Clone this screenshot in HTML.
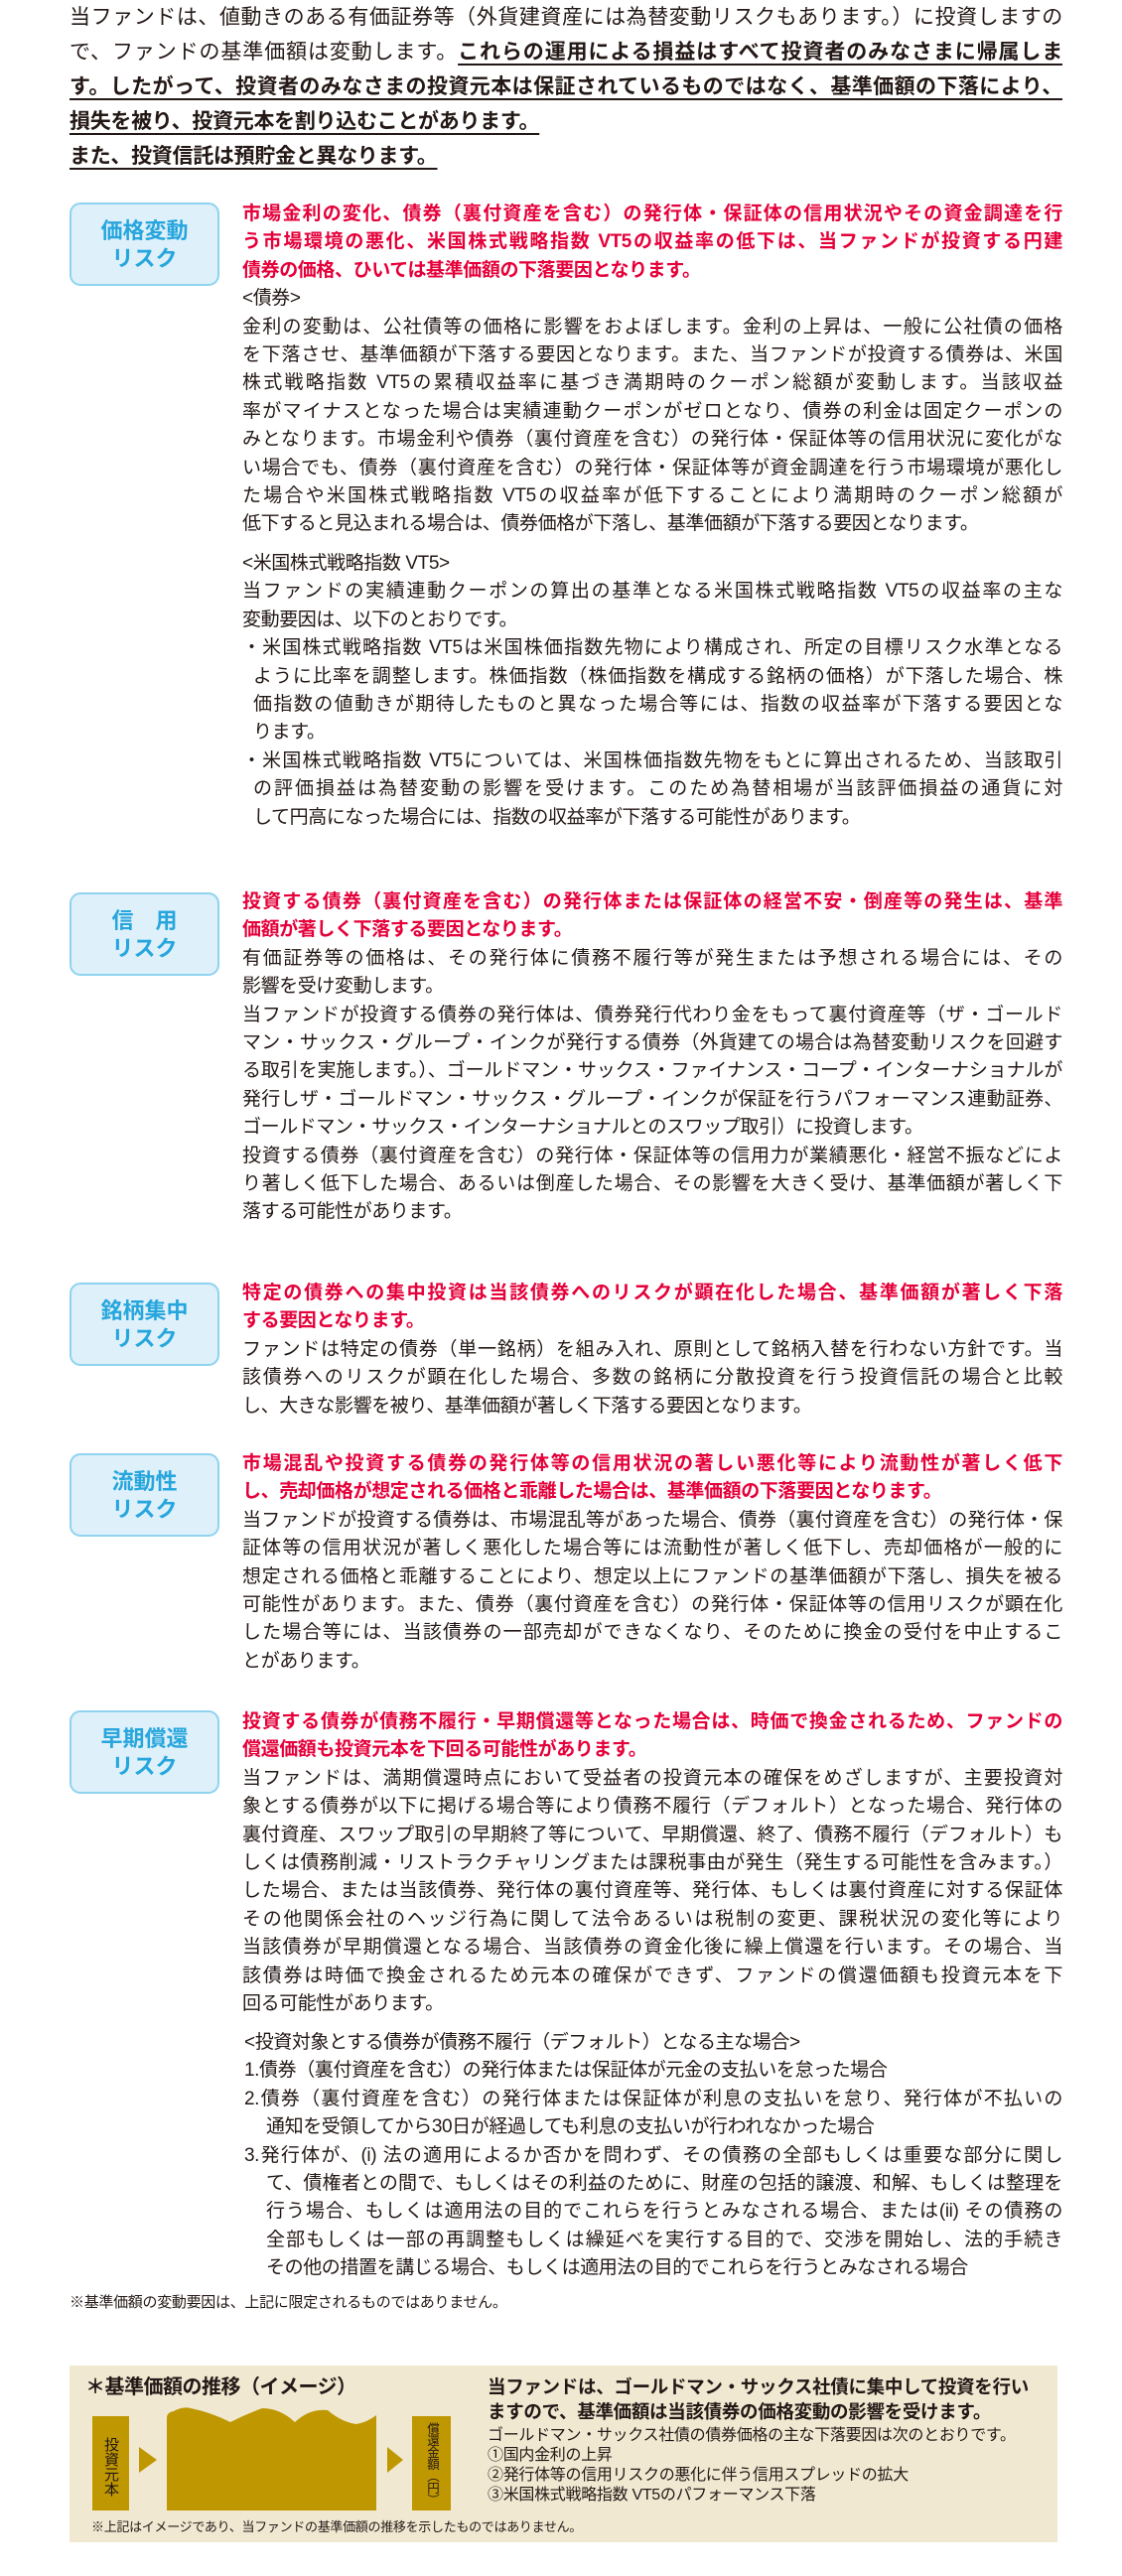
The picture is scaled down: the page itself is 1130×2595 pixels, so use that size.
<!DOCTYPE html>
<html><head><meta charset="utf-8">
<style>
*{margin:0;padding:0;box-sizing:border-box}
body{width:1130px;height:2595px;background:#fff;position:relative;font-family:"Liberation Sans","Noto Sans CJK JP",sans-serif;color:#231815;overflow:hidden}
.abs{position:absolute}
.intro{left:70px;top:0;width:1000px;font-size:21px;letter-spacing:-0.3px}
.intro div{height:35px;line-height:35px;overflow:hidden}
.b{font-weight:bold}
.u{text-decoration:underline;text-decoration-thickness:2px;text-underline-offset:5px}
.j{text-align:justify;text-align-last:justify}
.blk{left:244px;width:826px;font-size:19px;letter-spacing:-0.4px}
.blk div{height:28.4px;line-height:28.4px;overflow:hidden}
.red{color:#e5003a;font-weight:bold}
.ind{padding-left:11px}
.ind2{padding-left:22px}
.lab{left:70px;width:151px;height:84px;background:#def0fa;border:2px solid #8fd3f0;border-radius:11px;color:#27a6dd;font-size:22px;font-weight:bold;text-align:center;line-height:28px;padding-top:13px}
</style></head><body>

<div class="abs intro">
<div class="j">当ファンドは、値動きのある有価証券等（外貨建資産には為替変動リスクもあります。）に投資しますの</div>
<div class="j">で、ファンドの基準価額は変動します。<span class="b u">これらの運用による損益はすべて投資者のみなさまに帰属しま</span></div>
<div class="j b"><span class="u">す。したがって、投資者のみなさまの投資元本は保証されているものではなく、基準価額の下落により、</span></div>
<div class="b"><span class="u">損失を被り、投資元本を割り込むことがあります。</span></div>
<div class="b"><span class="u">また、投資信託は預貯金と異なります。</span></div>
</div>

<!-- section 1 -->
<div class="abs lab" style="top:204px">価格変動<br>リスク</div>
<div class="abs blk" style="top:202px">
<div class="j red">市場金利の変化、債券（裏付資産を含む）の発行体・保証体の信用状況やその資金調達を行</div>
<div class="j red">う市場環境の悪化、米国株式戦略指数 VT5の収益率の低下は、当ファンドが投資する円建</div>
<div class="red">債券の価格、ひいては基準価額の下落要因となります。</div>
<div>&lt;債券&gt;</div>
<div class="j">金利の変動は、公社債等の価格に影響をおよぼします。金利の上昇は、一般に公社債の価格</div>
<div class="j">を下落させ、基準価額が下落する要因となります。また、当ファンドが投資する債券は、米国</div>
<div class="j">株式戦略指数 VT5の累積収益率に基づき満期時のクーポン総額が変動します。当該収益</div>
<div class="j">率がマイナスとなった場合は実績連動クーポンがゼロとなり、債券の利金は固定クーポンの</div>
<div class="j">みとなります。市場金利や債券（裏付資産を含む）の発行体・保証体等の信用状況に変化がな</div>
<div class="j">い場合でも、債券（裏付資産を含む）の発行体・保証体等が資金調達を行う市場環境が悪化し</div>
<div class="j">た場合や米国株式戦略指数 VT5の収益率が低下することにより満期時のクーポン総額が</div>
<div>低下すると見込まれる場合は、債券価格が下落し、基準価額が下落する要因となります。</div>
</div>
<div class="abs blk" style="top:554px">
<div>&lt;米国株式戦略指数 VT5&gt;</div>
<div class="j">当ファンドの実績連動クーポンの算出の基準となる米国株式戦略指数 VT5の収益率の主な</div>
<div>変動要因は、以下のとおりです。</div>
<div class="j">・米国株式戦略指数 VT5は米国株価指数先物により構成され、所定の目標リスク水準となる</div>
<div class="j ind">ように比率を調整します。株価指数（株価指数を構成する銘柄の価格）が下落した場合、株</div>
<div class="j ind">価指数の値動きが期待したものと異なった場合等には、指数の収益率が下落する要因とな</div>
<div class="ind">ります。</div>
<div class="j">・米国株式戦略指数 VT5については、米国株価指数先物をもとに算出されるため、当該取引</div>
<div class="j ind">の評価損益は為替変動の影響を受けます。このため為替相場が当該評価損益の通貨に対</div>
<div class="ind">して円高になった場合には、指数の収益率が下落する可能性があります。</div>
</div>

<!-- section 2 -->
<div class="abs lab" style="top:899px">信　用<br>リスク</div>
<div class="abs blk" style="top:895px">
<div class="j red">投資する債券（裏付資産を含む）の発行体または保証体の経営不安・倒産等の発生は、基準</div>
<div class="red">価額が著しく下落する要因となります。</div>
<div class="j">有価証券等の価格は、その発行体に債務不履行等が発生または予想される場合には、その</div>
<div>影響を受け変動します。</div>
<div class="j">当ファンドが投資する債券の発行体は、債券発行代わり金をもって裏付資産等（ザ・ゴールド</div>
<div class="j">マン・サックス・グループ・インクが発行する債券（外貨建ての場合は為替変動リスクを回避す</div>
<div class="j">る取引を実施します。）、ゴールドマン・サックス・ファイナンス・コープ・インターナショナルが</div>
<div class="j">発行しザ・ゴールドマン・サックス・グループ・インクが保証を行うパフォーマンス連動証券、</div>
<div>ゴールドマン・サックス・インターナショナルとのスワップ取引）に投資します。</div>
<div class="j">投資する債券（裏付資産を含む）の発行体・保証体等の信用力が業績悪化・経営不振などによ</div>
<div class="j">り著しく低下した場合、あるいは倒産した場合、その影響を大きく受け、基準価額が著しく下</div>
<div>落する可能性があります。</div>
</div>

<!-- section 3 -->
<div class="abs lab" style="top:1292px">銘柄集中<br>リスク</div>
<div class="abs blk" style="top:1289px">
<div class="j red">特定の債券への集中投資は当該債券へのリスクが顕在化した場合、基準価額が著しく下落</div>
<div class="red">する要因となります。</div>
<div class="j">ファンドは特定の債券（単一銘柄）を組み入れ、原則として銘柄入替を行わない方針です。当</div>
<div class="j">該債券へのリスクが顕在化した場合、多数の銘柄に分散投資を行う投資信託の場合と比較</div>
<div>し、大きな影響を被り、基準価額が著しく下落する要因となります。</div>
</div>

<!-- section 4 -->
<div class="abs lab" style="top:1464px">流動性<br>リスク</div>
<div class="abs blk" style="top:1461px">
<div class="j red">市場混乱や投資する債券の発行体等の信用状況の著しい悪化等により流動性が著しく低下</div>
<div class="red">し、売却価格が想定される価格と乖離した場合は、基準価額の下落要因となります。</div>
<div class="j">当ファンドが投資する債券は、市場混乱等があった場合、債券（裏付資産を含む）の発行体・保</div>
<div class="j">証体等の信用状況が著しく悪化した場合等には流動性が著しく低下し、売却価格が一般的に</div>
<div class="j">想定される価格と乖離することにより、想定以上にファンドの基準価額が下落し、損失を被る</div>
<div class="j">可能性があります。また、債券（裏付資産を含む）の発行体・保証体等の信用リスクが顕在化</div>
<div class="j">した場合等には、当該債券の一部売却ができなくなり、そのために換金の受付を中止するこ</div>
<div>とがあります。</div>
</div>

<!-- section 5 -->
<div class="abs lab" style="top:1723px">早期償還<br>リスク</div>
<div class="abs blk" style="top:1721px">
<div class="j red">投資する債券が債務不履行・早期償還等となった場合は、時価で換金されるため、ファンドの</div>
<div class="red">償還価額も投資元本を下回る可能性があります。</div>
<div class="j">当ファンドは、満期償還時点において受益者の投資元本の確保をめざしますが、主要投資対</div>
<div class="j">象とする債券が以下に掲げる場合等により債務不履行（デフォルト）となった場合、発行体の</div>
<div class="j">裏付資産、スワップ取引の早期終了等について、早期償還、終了、債務不履行（デフォルト）も</div>
<div class="j">しくは債務削減・リストラクチャリングまたは課税事由が発生（発生する可能性を含みます。）</div>
<div class="j">した場合、または当該債券、発行体の裏付資産等、発行体、もしくは裏付資産に対する保証体</div>
<div class="j">その他関係会社のヘッジ行為に関して法令あるいは税制の変更、課税状況の変化等により</div>
<div class="j">当該債券が早期償還となる場合、当該債券の資金化後に繰上償還を行います。その場合、当</div>
<div class="j">該債券は時価で換金されるため元本の確保ができず、ファンドの償還価額も投資元本を下</div>
<div>回る可能性があります。</div>
</div>
<div class="abs blk" style="top:2044px;left:246px;width:824px">
<div>&lt;投資対象とする債券が債務不履行（デフォルト）となる主な場合&gt;</div>
<div>1.債券（裏付資産を含む）の発行体または保証体が元金の支払いを怠った場合</div>
<div class="j">2.債券（裏付資産を含む）の発行体または保証体が利息の支払いを怠り、発行体が不払いの</div>
<div class="ind2">通知を受領してから30日が経過しても利息の支払いが行われなかった場合</div>
<div class="j">3.発行体が、(i) 法の適用によるか否かを問わず、その債務の全部もしくは重要な部分に関し</div>
<div class="j ind2">て、債権者との間で、もしくはその利益のために、財産の包括的譲渡、和解、もしくは整理を</div>
<div class="j ind2">行う場合、もしくは適用法の目的でこれらを行うとみなされる場合、または(ii) その債務の</div>
<div class="j ind2">全部もしくは一部の再調整もしくは繰延べを実行する目的で、交渉を開始し、法的手続き</div>
<div class="ind2">その他の措置を講じる場合、もしくは適用法の目的でこれらを行うとみなされる場合</div>
</div>
<div class="abs" style="left:70px;top:2310px;font-size:15px;letter-spacing:-0.3px;line-height:20px">※基準価額の変動要因は、上記に限定されるものではありません。</div>

<!-- bottom box -->
<div class="abs" style="left:70px;top:2383px;width:995px;height:178px;background:#f1e8d2"></div>
<div class="abs b" style="left:86px;top:2392px;font-size:20px;line-height:26px;letter-spacing:-0.5px">＊基準価額の推移（イメージ）</div>
<svg class="abs" style="left:0;top:0" width="1130" height="2595" viewBox="0 0 1130 2595">
<rect x="93" y="2434" width="37" height="95" fill="#bf9700"/>
<polygon points="140,2465 158,2478 140,2491" fill="#bf9700"/>
<path d="M168,2436 Q168,2430 175,2429 Q184,2424 192,2426 Q212,2430 232,2440 Q248,2432 264,2426 Q282,2426 297,2440 Q312,2426 330,2428 Q344,2440 359,2442 Q370,2440 379,2433 L379,2529 L168,2529 Z" fill="#bf9700"/>
<polygon points="390,2465 406,2478 390,2491" fill="#bf9700"/>
<rect x="415" y="2434" width="39" height="95" fill="#bf9700"/>
</svg>
<div class="abs" style="left:93px;top:2450px;width:37px;height:70px;writing-mode:vertical-rl;font-size:15px;line-height:37px;text-align:center;color:#231815">投資元本</div>
<div class="abs" style="left:415px;top:2436px;width:39px;height:92px;writing-mode:vertical-rl;font-size:12.5px;line-height:39px;letter-spacing:-0.5px;text-align:center;color:#231815">償還金額（円）</div>
<div class="abs b" style="left:491px;top:2392px;font-size:18.5px;line-height:25px;letter-spacing:-0.3px">当ファンドは、ゴールドマン・サックス社債に集中して投資を行い<br>ますので、基準価額は当該債券の価格変動の影響を受けます。</div>
<div class="abs" style="left:491px;top:2444px;font-size:16px;line-height:20px;letter-spacing:-0.3px">ゴールドマン・サックス社債の債券価格の主な下落要因は次のとおりです。<br>①国内金利の上昇<br>②発行体等の信用リスクの悪化に伴う信用スプレッドの拡大<br>③米国株式戦略指数 VT5のパフォーマンス下落</div>
<div class="abs" style="left:92px;top:2537px;font-size:13px;line-height:17px;letter-spacing:-0.3px">※上記はイメージであり、当ファンドの基準価額の推移を示したものではありません。</div>

</body></html>
